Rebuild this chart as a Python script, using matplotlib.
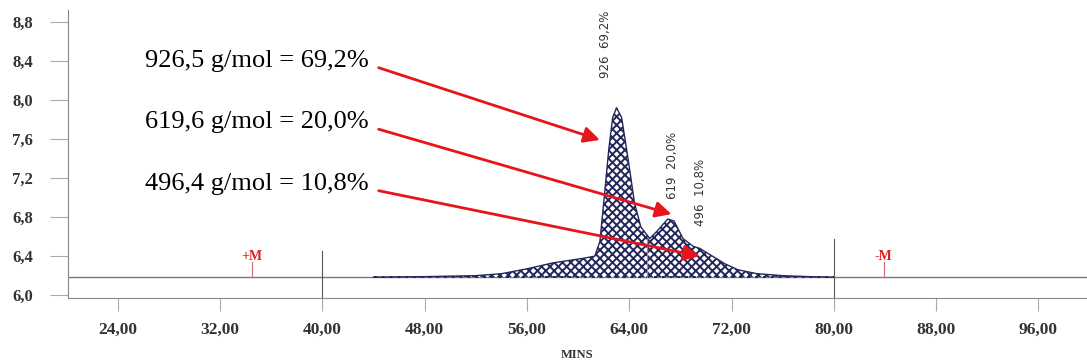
import numpy as np
import matplotlib
matplotlib.use('Agg')
import matplotlib.pyplot as plt

# chromatogram trace (minutes, signal)
mins = [44, 48, 52, 54, 56, 58, 59.5, 60.5, 61.3, 61.7, 62.0, 62.4, 62.7, 63.0,
        63.4, 63.9, 64.4, 64.9, 65.6, 66.2, 67.0, 67.5, 68.2, 69.0, 69.5, 70.5,
        71.5, 72.5, 74, 76, 78, 80]
signal = [6.185, 6.19, 6.20, 6.22, 6.27, 6.33, 6.36, 6.38, 6.40, 6.55, 6.95, 7.50,
          7.82, 7.92, 7.82, 7.40, 6.95, 6.70, 6.58, 6.66, 6.78, 6.76, 6.58, 6.50,
          6.48, 6.40, 6.32, 6.26, 6.22, 6.20, 6.19, 6.185]
baseline = 6.185

xticks = [24, 32, 40, 48, 56, 64, 72, 80, 88, 96]
yticks = [6.0, 6.4, 6.8, 7.2, 7.6, 8.0, 8.4, 8.8]

labels = ['926,5 g/mol = 69,2%', '619,6 g/mol = 20,0%', '496,4 g/mol = 10,8%']
label_pos = [(26.1, 8.40), (26.1, 7.77), (26.1, 7.14)]
arrow_from = [(44.4, 8.33), (44.4, 7.70), (44.4, 7.07)]
arrow_to = [(61.7, 7.59), (67.3, 6.83), (69.5, 6.40)]

peak_tags = ['926  69,2%', '619  20,0%', '496  10,8%']
peak_tag_pos = [(62.1, 8.57), (67.4, 7.33), (69.6, 7.05)]

markers = ['+M', '-M']
marker_x = [34.5, 83.9]

plt.rcParams['hatch.linewidth'] = 1.4
serif = ['Liberation Serif', 'DejaVu Serif']

fig = plt.figure(figsize=(10.87, 3.64), dpi=100)
ax = fig.add_axes([0.0626, 0.181, 0.9374, 0.7912])
ax.set_xlim(20.1, 99.8)
ax.set_ylim(5.97, 8.92)

navy = '#23275a'
ax.fill_between(mins, baseline, signal, facecolor='white', edgecolor=navy,
                hatch='xxxx', linewidth=0)
ax.plot(mins, signal, color=navy, lw=1.0)
ax.plot([44, 80], [baseline, baseline], color=navy, lw=1.4, ls=(0, (1.5, 2.5)))
ax.axhline(baseline, color='#777777', lw=1.0, zorder=0)
ax.plot([65.4, 65.4], [baseline, 6.58], color='#d07090', lw=0.8)

# vertical marker lines at 40 and 80
ax.plot([40, 40], [5.97, 6.45], color='#555555', lw=0.8, clip_on=False)
ax.plot([80, 80], [5.97, 6.58], color='#555555', lw=0.8, clip_on=False)

for m, mx in zip(markers, marker_x):
    ax.plot([mx, mx], [baseline, 6.34], color='#cc6666', lw=0.8)
    ax.text(mx, 6.40, m, color='#e02020', fontsize=10, fontweight='bold',
            ha='center', va='center', family=serif)

for t, (tx, ty) in zip(peak_tags, peak_tag_pos):
    ax.text(tx, ty, t, rotation=90, fontsize=8.5, ha='center', va='center',
            color='#333333', family=['Liberation Sans Narrow', 'DejaVu Sans'])

for t, (tx, ty) in zip(labels, label_pos):
    ax.text(tx, ty, t, fontsize=19, ha='left', va='center', color='black',
            family=serif)

for a, b in zip(arrow_from, arrow_to):
    ax.annotate('', xy=b, xytext=a,
                arrowprops=dict(arrowstyle='-|>', color='#e8141b', lw=2,
                                mutation_scale=24, shrinkA=0, shrinkB=0))

ax.spines['top'].set_visible(False)
ax.spines['right'].set_visible(False)
ax.spines['left'].set_color('#888888')
ax.spines['bottom'].set_color('#888888')

ax.set_xticks(xticks)
ax.set_xticklabels([('%.2f' % v).replace('.', ',') for v in xticks])
ax.set_yticks(yticks)
ax.set_yticklabels([('%.1f' % v).replace('.', ',') for v in yticks])
ax.tick_params(axis='y', length=13, width=0.8, color='#aaaaaa', pad=12)
ax.tick_params(axis='x', length=9, width=0.8, color='#aaaaaa', pad=8)
for lab in ax.get_xticklabels():
    lab.set_fontsize(12.5)
for lab in ax.get_yticklabels():
    lab.set_fontsize(12)
for lab in ax.get_xticklabels() + ax.get_yticklabels():
    lab.set_family(serif)
    lab.set_fontweight('bold')
    lab.set_color('#333333')

ax.set_xlabel('MINS', fontsize=9, fontweight='bold', family=serif,
              color='#333333', labelpad=8)

fig.savefig('out.png', dpi=100)
